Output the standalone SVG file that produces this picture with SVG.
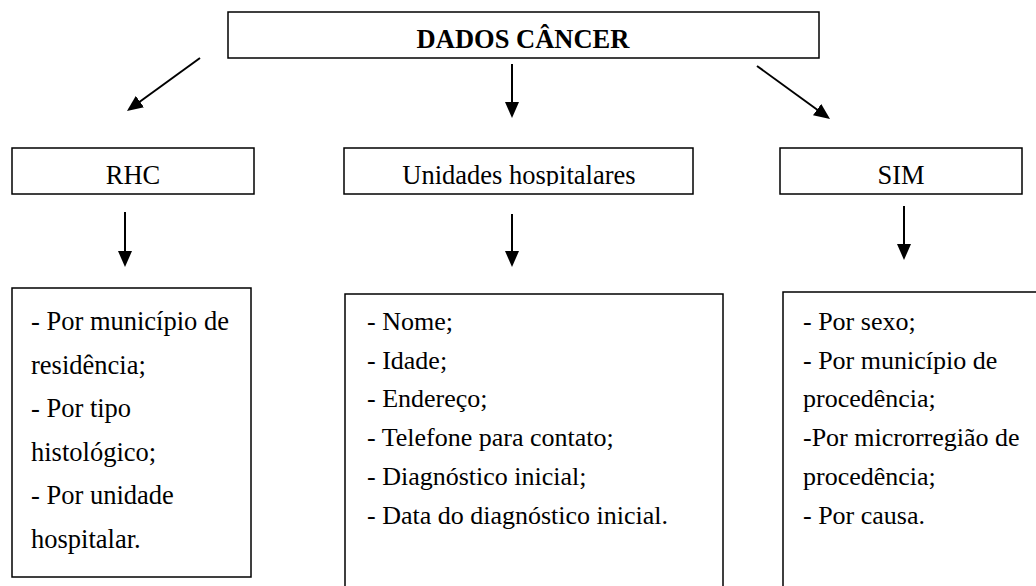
<svg xmlns="http://www.w3.org/2000/svg" width="1036" height="586" viewBox="0 0 1036 586">
  <style>
    .box { fill: #ffffff; stroke: #000000; stroke-width: 1.5; }
    .t { font-family: "Liberation Serif", "Times New Roman", serif; fill: #000000; }
    .title { font-size: 26.5px; font-weight: bold; text-anchor: middle; }
    .mid { font-size: 26.5px; text-anchor: middle; }
    .lst { font-size: 26px; }
    .lstL { font-size: 26.5px; }
    .arrow { stroke: #000000; stroke-width: 2; fill: none; marker-end: url(#ah); }
  </style>
  <defs>
    <marker id="ah" markerUnits="userSpaceOnUse" markerWidth="16" markerHeight="14" refX="13" refY="7" orient="auto">
      <path d="M0,0 L16,7 L0,14 Z" fill="#000000"/>
    </marker>
    <clipPath id="clipUH">
      <rect x="345" y="148" width="348" height="38"/>
    </clipPath>
  </defs>
  <rect x="0" y="0" width="1036" height="586" fill="#ffffff"/>

  <g id="node-dados">
    <rect class="box" x="228" y="12" width="591" height="46"/>
    <text class="t title" x="523" y="48">DADOS CÂNCER</text>
  </g>

  <g id="node-rhc">
    <rect class="box" x="12" y="148" width="242" height="46"/>
    <text class="t mid" x="133" y="184">RHC</text>
  </g>

  <g id="node-unidades">
    <rect class="box" x="344" y="148" width="349" height="46"/>
    <text class="t mid" x="519" y="184" clip-path="url(#clipUH)">Unidades hospitalares</text>
  </g>

  <g id="node-sim">
    <rect class="box" x="780" y="148" width="242" height="46"/>
    <text class="t mid" x="901" y="184">SIM</text>
  </g>

  <g id="node-rhc-list">
    <rect class="box" x="12" y="288" width="239" height="289"/>
    <text class="t lstL" x="31" y="330">- Por município de</text>
    <text class="t lstL" x="31" y="373.6">residência;</text>
    <text class="t lstL" x="31" y="417.2">- Por tipo</text>
    <text class="t lstL" x="31" y="460.8">histológico;</text>
    <text class="t lstL" x="31" y="504.4">- Por unidade</text>
    <text class="t lstL" x="31" y="548">hospitalar.</text>
  </g>

  <g id="node-unidades-list">
    <rect class="box" x="345" y="294" width="378" height="320"/>
    <text class="t lst" x="367" y="330">- Nome;</text>
    <text class="t lst" x="367" y="368.7">- Idade;</text>
    <text class="t lst" x="367" y="407.4">- Endereço;</text>
    <text class="t lst" x="367" y="446.1">- Telefone para contato;</text>
    <text class="t lst" x="367" y="484.8">- Diagnóstico inicial;</text>
    <text class="t lst" x="367" y="523.5">- Data do diagnóstico inicial.</text>
  </g>

  <g id="node-sim-list">
    <rect class="box" x="783" y="292" width="300" height="320"/>
    <text class="t lst" x="803" y="330">- Por sexo;</text>
    <text class="t lst" x="803" y="368.7">- Por município de</text>
    <text class="t lst" x="803" y="407.4">procedência;</text>
    <text class="t lst" x="803" y="446.1">-Por microrregião de</text>
    <text class="t lst" x="803" y="484.8">procedência;</text>
    <text class="t lst" x="803" y="523.5">- Por causa.</text>
  </g>

  <g id="connectors">
    <line class="arrow" x1="200" y1="58" x2="129.4" y2="109.2"/>
    <line class="arrow" x1="512" y1="64" x2="512" y2="115"/>
    <line class="arrow" x1="757" y1="66" x2="827.6" y2="117.2"/>
    <line class="arrow" x1="125" y1="212" x2="125" y2="264"/>
    <line class="arrow" x1="512" y1="214" x2="512" y2="264"/>
    <line class="arrow" x1="904" y1="206" x2="904" y2="257"/>
  </g>
</svg>
